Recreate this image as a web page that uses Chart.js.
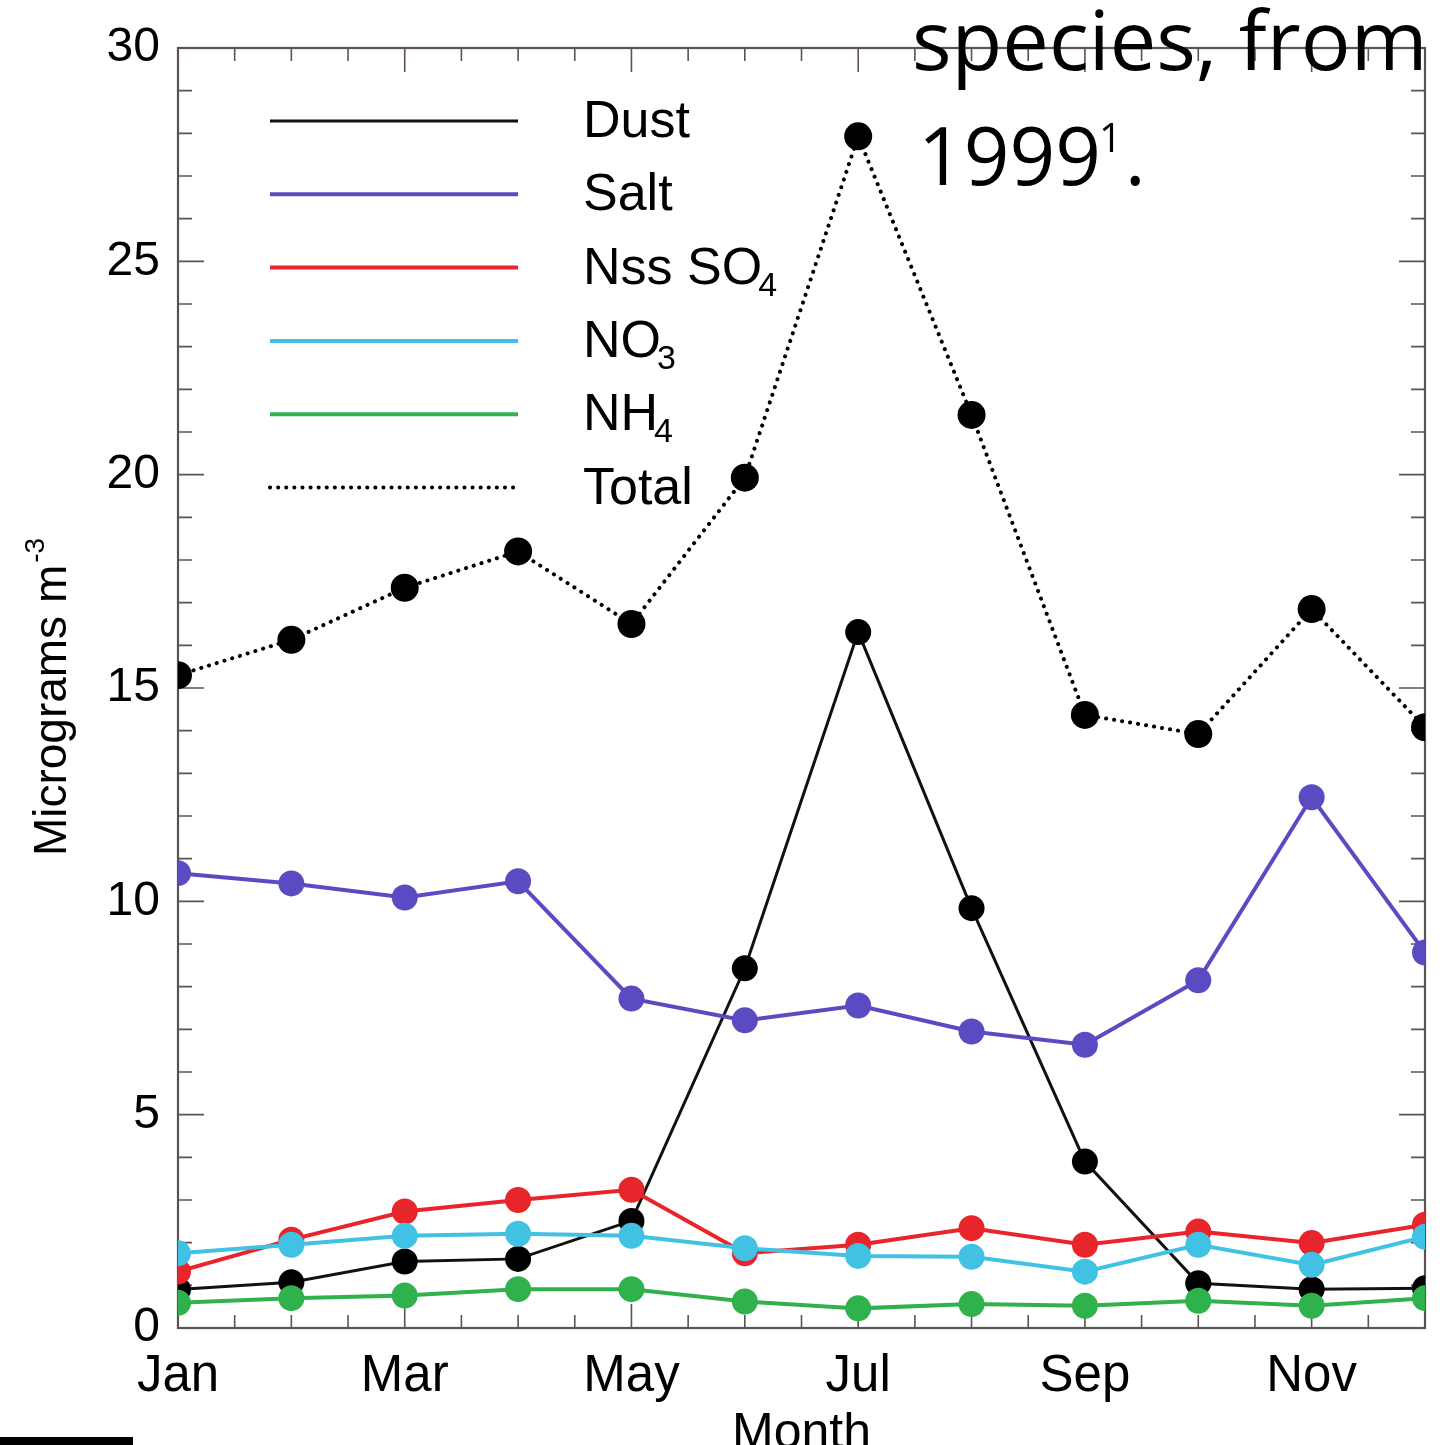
<!DOCTYPE html>
<html><head><meta charset="utf-8">
<script src="https://cdn.jsdelivr.net/npm/chart.js@4.4.0/dist/chart.umd.min.js"></script>
<style>html,body{margin:0;padding:0;background:#fff;} #wrap{position:relative;width:1445px;height:1445px;} canvas{display:block}</style>
</head><body><div id="wrap"><canvas id="c" width="1445" height="1445"></canvas></div>
<script>
const months = ['Jan','Feb','Mar','Apr','May','Jun','Jul','Aug','Sep','Oct','Nov','Dec'];
const labeledMonths = ['Jan','Mar','May','Jul','Sep','Nov'];
const dust   = [0.90,1.07,1.56,1.62,2.51,8.43,16.31,9.84,3.90,1.05,0.91,0.93];
const salt   = [10.66,10.42,10.09,10.47,7.72,7.21,7.56,6.95,6.64,8.15,12.44,8.80];
const nssSO4 = [1.32,2.07,2.73,3.00,3.24,1.75,1.95,2.34,1.95,2.26,1.99,2.42];
const no3    = [1.75,1.95,2.16,2.21,2.16,1.87,1.69,1.67,1.32,1.95,1.48,2.14];
const nh4    = [0.59,0.70,0.76,0.91,0.91,0.62,0.46,0.56,0.52,0.64,0.52,0.70];
const total  = [15.30,16.13,17.35,18.20,16.50,19.93,27.93,21.40,14.37,13.92,16.85,14.08];
const yMin = 0, yMax = 30, yStep = 5;
const legendBase = ['Dust','Salt','Nss SO','NO','NH','Total'];
const legendSub  = ['','','4','3','4',''];
const yTitleBase = 'Micrograms m', yTitleSup = '-3';
const xTitle = 'Month';
const captionLine1 = 'species, from';
const captionLine2 = '1999', captionSup = '1', captionEnd = '.';

const FRAME = '#5d5252';
const FONT = '"Liberation Sans", Arial, sans-serif';
const CAPFONT = '"Open Sans", "Noto Sans", sans-serif';

const datasets = [
  {label:'Total', data: total, borderColor:'#000', backgroundColor:'#000', borderWidth:4, borderDash:[0.1,8], borderCapStyle:'round', pointRadius:14, order:6},
  {label:'Dust', data: dust, borderColor:'#111', backgroundColor:'#000', borderWidth:3, pointRadius:13, order:5},
  {label:'Salt', data: salt, borderColor:'#5a4bc2', backgroundColor:'#5a4bc2', borderWidth:4, pointRadius:13, order:4},
  {label:'Nss SO4', data: nssSO4, borderColor:'#e8252b', backgroundColor:'#e8252b', borderWidth:4, pointRadius:13, order:3},
  {label:'NO3', data: no3, borderColor:'#41c1e4', backgroundColor:'#41c1e4', borderWidth:4, pointRadius:13, order:2},
  {label:'NH4', data: nh4, borderColor:'#2fb24b', backgroundColor:'#2fb24b', borderWidth:4, pointRadius:13, order:1}
].map(d => Object.assign({pointBorderWidth:0, tension:0, clip:0, pointHoverRadius:d.pointRadius}, d));

const framePlugin = {
  id:'frame',
  beforeDatasetsDraw(chart){
    const {ctx, chartArea:a, scales:{x,y}} = chart;
    ctx.save();
    ctx.strokeStyle = FRAME; ctx.lineWidth = 2.2;
    ctx.strokeRect(a.left, a.top, a.right-a.left, a.bottom-a.top);
    ctx.lineWidth = 1.6;
    ctx.beginPath();
    for (let v = yMin; v <= yMax; v++) {
      const py = y.getPixelForValue(v);
      const len = v % yStep === 0 ? 26 : 14;
      ctx.moveTo(a.left, py); ctx.lineTo(a.left+len, py);
      ctx.moveTo(a.right, py); ctx.lineTo(a.right-len, py);
    }
    for (let i = 0; i < months.length; i++) {
      const px = x.getPixelForValue(i);
      const len = labeledMonths.includes(months[i]) ? 24 : 13;
      ctx.moveTo(px, a.bottom); ctx.lineTo(px, a.bottom-len);
      ctx.moveTo(px, a.top); ctx.lineTo(px, a.top+len);
      if (i < months.length-1) {
        const ph = (px + x.getPixelForValue(i+1))/2;
        ctx.moveTo(ph, a.bottom); ctx.lineTo(ph, a.bottom-13);
        ctx.moveTo(ph, a.top); ctx.lineTo(ph, a.top+13);
      }
    }
    ctx.stroke();
    ctx.restore();
  },
  afterDraw(chart){
    const {ctx, chartArea:a} = chart;
    ctx.save();
    // legend
    const order = ['Dust','Salt','Nss SO4','NO3','NH4','Total'];
    order.forEach((lab, i) => {
      const ds = chart.data.datasets.find(d => d.label === lab);
      const ly = 121 + i*73.3;
      ctx.beginPath();
      ctx.strokeStyle = ds.borderColor;
      ctx.lineWidth = ds.borderWidth;
      ctx.lineCap = ds.borderCapStyle || 'butt';
      ctx.setLineDash(ds.borderDash || []);
      ctx.moveTo(270, ly); ctx.lineTo(518, ly);
      ctx.stroke();
      ctx.setLineDash([]);
      ctx.fillStyle = '#000';
      ctx.font = '52px ' + FONT;
      ctx.textBaseline = 'alphabetic';
      ctx.textAlign = 'left';
      const base = ly + 16;
      ctx.fillText(legendBase[i], 583, base);
      if (legendSub[i]) {
        const w = ctx.measureText(legendBase[i]).width;
        ctx.font = '34px ' + FONT;
        ctx.fillText(legendSub[i], 583 + w - 4, base + 12);
      }
    });
    // y title
    ctx.save();
    ctx.translate(66, (a.top + a.bottom)/2 + 10);
    ctx.rotate(-Math.PI/2);
    ctx.font = '46px ' + FONT;
    ctx.textAlign = 'left'; ctx.textBaseline = 'alphabetic';
    const w1 = ctx.measureText(yTitleBase).width;
    ctx.font = '28px ' + FONT;
    const w2 = ctx.measureText(yTitleSup).width;
    const start = -(w1 + w2)/2;
    ctx.font = '46px ' + FONT;
    ctx.fillText(yTitleBase, start, 0);
    ctx.font = '28px ' + FONT;
    ctx.fillText(yTitleSup, start + w1 + 2, -22);
    ctx.restore();
    // x title
    ctx.font = '50px ' + FONT;
    ctx.textAlign = 'center'; ctx.textBaseline = 'alphabetic';
    ctx.fillText(xTitle, (a.left + a.right)/2, 1448);
    // caption
    ctx.textAlign = 'left';
    ctx.font = '83px ' + CAPFONT;
    ctx.fillText(captionLine1, 912, 70);
    ctx.font = '80px ' + CAPFONT;
    ctx.fillText(captionLine2, 918, 185);
    const cw = ctx.measureText(captionLine2).width;
    ctx.font = '40px ' + CAPFONT;
    ctx.fillText(captionSup, 918 + cw - 2, 152);
    const sw = ctx.measureText(captionSup).width;
    ctx.font = '80px ' + CAPFONT;
    ctx.fillText(captionEnd, 918 + cw + sw + 1, 185);
    // black bar
    ctx.fillStyle = '#000';
    ctx.fillRect(0, 1437, 133, 8);
    ctx.restore();
  }
};

new Chart(document.getElementById('c'), {
  type:'line',
  data:{ labels: months, datasets },
  options:{
    responsive:false, animation:false,
    layout:{ padding:{ top:48, right:20, left:0, bottom:0 } },
    plugins:{ legend:{display:false}, tooltip:{enabled:false} },
    scales:{
      x:{
        type:'category', offset:false,
        grid:{display:false, drawTicks:false}, border:{display:false},
        ticks:{ autoSkip:false, maxRotation:0, minRotation:0, padding:18, color:'#000',
          font:{family:FONT, size:51},
          callback:(v,i)=> labeledMonths.includes(months[i]) ? months[i] : '' },
        afterFit:(s)=>{ s.height = 117; }
      },
      y:{
        min:yMin, max:yMax,
        grid:{display:false, drawTicks:false}, border:{display:false},
        ticks:{ stepSize:yStep, padding:18, color:'#000', font:{family:FONT, size:48} },
        afterFit:(s)=>{ s.width = 178; }
      }
    }
  },
  plugins:[framePlugin]
});
</script></body></html>
